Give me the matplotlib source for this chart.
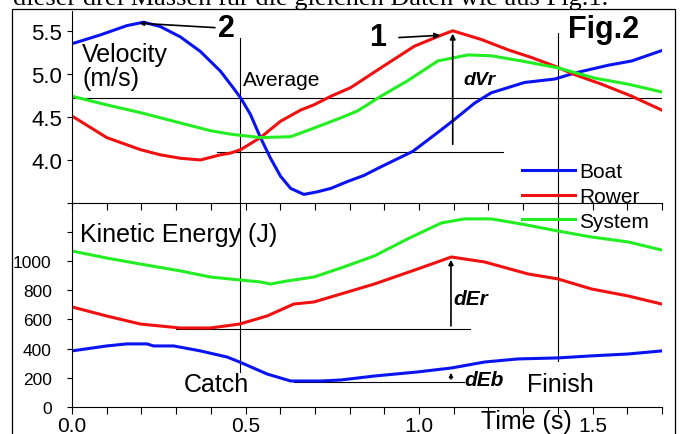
import matplotlib
matplotlib.use('Agg')
import matplotlib.pyplot as plt
import numpy as np
from matplotlib.patches import Rectangle

plt.rcParams['font.family'] = ['Liberation Sans', 'DejaVu Sans']

# velocity (m/s)
t_boat_v = [0.0, 0.08, 0.158, 0.206, 0.254, 0.312, 0.37, 0.428, 0.466, 0.486, 0.514, 0.543,
            0.572, 0.601, 0.63, 0.668, 0.707, 0.746, 0.794, 0.841, 0.89, 0.982, 1.064,
            1.102, 1.16, 1.208, 1.256, 1.304, 1.391, 1.449, 1.545, 1.613, 1.699]
boat_v = [5.35, 5.45, 5.56, 5.60, 5.55, 5.43, 5.26, 5.03, 4.83, 4.72, 4.53, 4.26,
          4.02, 3.81, 3.67, 3.60, 3.63, 3.67, 3.75, 3.82, 3.92, 4.10, 4.35,
          4.47, 4.66, 4.78, 4.84, 4.90, 4.94, 5.01, 5.10, 5.15, 5.27]

t_rower_v = [0.0, 0.1, 0.197, 0.254, 0.312, 0.37, 0.428, 0.457, 0.486, 0.543, 0.601, 0.659,
             0.697, 0.746, 0.803, 0.89, 0.986, 1.064, 1.097, 1.179, 1.256, 1.324, 1.391,
             1.449, 1.526, 1.613, 1.699]
rower_v = [4.51, 4.26, 4.12, 4.06, 4.02, 4.00, 4.06, 4.08, 4.12, 4.26, 4.45, 4.58,
           4.64, 4.74, 4.84, 5.07, 5.32, 5.45, 5.50, 5.40, 5.28, 5.19, 5.09,
           4.99, 4.88, 4.74, 4.58]

t_sys_v = [0.0, 0.1, 0.197, 0.312, 0.399, 0.457, 0.543, 0.63, 0.697, 0.775, 0.823, 0.89,
           0.967, 1.054, 1.141, 1.208, 1.295, 1.4, 1.507, 1.603, 1.699]
sys_v = [4.74, 4.64, 4.55, 4.43, 4.34, 4.30, 4.26, 4.27, 4.37, 4.49, 4.57, 4.74,
         4.92, 5.15, 5.22, 5.21, 5.15, 5.07, 4.95, 4.88, 4.79]

# kinetic energy (J)
t_boat_e = [0.0, 0.1, 0.158, 0.216, 0.235, 0.293, 0.37, 0.447, 0.483, 0.562, 0.63, 0.717,
            0.775, 0.871, 0.996, 1.093, 1.189, 1.285, 1.40, 1.497, 1.603, 1.699]
boat_e = [384, 418, 432, 432, 418, 418, 384, 342, 308, 226, 178, 178,
          185, 212, 240, 267, 308, 329, 336, 350, 363, 384]

t_rower_e = [0.0, 0.1, 0.197, 0.312, 0.399, 0.483, 0.562, 0.639, 0.697, 0.775, 0.871,
             0.996, 1.093, 1.189, 1.314, 1.40, 1.497, 1.603, 1.699]
rower_e = [685, 623, 568, 541, 541, 568, 623, 705, 719, 774, 842,
           945, 1027, 993, 911, 877, 808, 760, 705]

t_sys_e = [0.0, 0.1, 0.197, 0.312, 0.399, 0.483, 0.543, 0.572, 0.62, 0.697, 0.775, 0.871,
           0.967, 1.064, 1.131, 1.208, 1.295, 1.40, 1.497, 1.603, 1.699]
sys_e = [1068, 1020, 979, 932, 890, 870, 856, 842, 863, 890, 952, 1034,
         1151, 1260, 1288, 1288, 1253, 1205, 1164, 1130, 1075]

catch_t = 0.483
finish_t = 1.40
avg_v = 4.72
rower_catch_v = 4.09
rower_min_e = 536
boat_min_e = 171

blue = '#0a14f0'
red = '#f01010'
green = '#22ee22'

fig = plt.figure(figsize = (6.8, 4.35), dpi = 100)
ax1 = fig.add_axes([0.1059, 0.531, 0.8676, 0.4414])
ax2 = fig.add_axes([0.1059, 0.0621, 0.8676, 0.469])

for ax in (ax1, ax2):
    ax.set_xlim(0, 1.7)
    ax.patch.set_alpha(0)
    for s in ('top', 'right'):
        ax.spines[s].set_visible(False)
    for s in ('left', 'bottom'):
        ax.spines[s].set_linewidth(0.8)
    ax.set_xticks(np.arange(0, 1.71, 0.1))
    ax.tick_params(axis = 'x', direction = 'out', length = 5, width = 0.8)
    ax.tick_params(axis = 'y', direction = 'out', length = 3.6, width = 0.8)

# ---- velocity panel
ax1.set_ylim(3.5, 5.73)
ax1.set_yticks([3.5, 4.0, 4.5, 5.0, 5.5])
ax1.set_yticklabels(['', '4.0', '4.5', '5.0', '5.5'], fontsize = 16)
ax1.tick_params(axis = 'y', pad = 3.5)
ax1.tick_params(axis = 'x', labelbottom = False)

lb, = ax1.plot(t_boat_v, boat_v, color = blue, lw = 2.2, label = 'Boat')
lr, = ax1.plot(t_rower_v, rower_v, color = red, lw = 2.2, label = 'Rower')
ls, = ax1.plot(t_sys_v, sys_v, color = green, lw = 2.2, label = 'System')

ax1.axhline(avg_v, color = 'black', lw = 0.8, zorder = 1)
ax1.plot([0.419, 1.243], [rower_catch_v] * 2, color = 'black', lw = 0.8, zorder = 1)
ax1.plot([catch_t] * 2, [3.5, 5.42], color = 'black', lw = 0.8, zorder = 1)
ax1.plot([finish_t] * 2, [3.5, 5.48], color = 'black', lw = 0.8, zorder = 1)

i_r = int(np.argmax(rower_v))
i_b = int(np.argmax(boat_v))
ax1.annotate('', xy = (t_rower_v[i_r], rower_v[i_r]), xytext = (t_rower_v[i_r], rower_catch_v + 0.06),
             arrowprops = dict(arrowstyle = '-|>', color = 'black', lw = 1.2, mutation_scale = 8))
ax1.annotate('', xy = (1.069, 5.45), xytext = (0.934, 5.42),
             arrowprops = dict(arrowstyle = '-|>', color = 'black', lw = 1.2, mutation_scale = 8))
ax1.annotate('', xy = (t_boat_v[i_b] - 0.02, boat_v[i_b] - 0.01), xytext = (0.42, 5.535),
             arrowprops = dict(arrowstyle = '-|>', color = 'black', lw = 1.2, mutation_scale = 6))

ax1.text(0.029, 5.37, 'Velocity\n(m/s)', fontsize = 18, va = 'top', ha = 'left', linespacing = 1.0)
ax1.text(0.494, 4.94, 'Average', fontsize = 15, va = 'center', ha = 'left')
ax1.text(0.422, 5.53, '2', fontsize = 22, fontweight = 'bold', va = 'center', ha = 'left')
ax1.text(0.855, 5.43, '1', fontsize = 22, fontweight = 'bold', va = 'center', ha = 'left')
ax1.text(1.43, 5.52, 'Fig.2', fontsize = 22, fontweight = 'bold', va = 'center', ha = 'left')
ax1.text(1.127, 4.94, 'dVr', fontsize = 14, fontweight = 'bold', style = 'italic', va = 'center', ha = 'left')

# ---- energy panel
ax2.set_ylim(0, 1397)
ax2.set_yticks(np.arange(0, 1201, 200))
ax2.set_yticklabels(['0', '200', '400', '600', '800', '1000', ''], fontsize = 12.5)
ax2.tick_params(axis = 'y', pad = 11)
ax2.set_xticklabels(['%.1f' % v if abs(v * 2 - round(v * 2)) < 1e-6 else '' for v in np.arange(0, 1.71, 0.1)],
                    fontsize = 15)
ax2.tick_params(axis = 'x', pad = 1.5)

ax2.plot(t_boat_e, boat_e, color = blue, lw = 2.2)
ax2.plot(t_rower_e, rower_e, color = red, lw = 2.2)
ax2.plot(t_sys_e, sys_e, color = green, lw = 2.2)

ax2.plot([0.30, 1.147], [rower_min_e] * 2, color = 'black', lw = 0.8, zorder = 1)
ax2.plot([0.64, 1.13], [boat_min_e] * 2, color = 'black', lw = 0.8, zorder = 1)
ax2.plot([catch_t] * 2, [240, 1397], color = 'black', lw = 0.8, zorder = 1)
ax2.plot([finish_t] * 2, [315, 1397], color = 'black', lw = 0.8, zorder = 1)

i_re = int(np.argmax(rower_e))
ax2.annotate('', xy = (1.092, rower_e[i_re]), xytext = (1.092, rower_min_e),
             arrowprops = dict(arrowstyle = '-|>', color = 'black', lw = 1.2, mutation_scale = 7))
ax2.annotate('', xy = (1.092, 253), xytext = (1.092, boat_min_e),
             arrowprops = dict(arrowstyle = '-|>', color = 'black', lw = 1.0, mutation_scale = 6))

ax2.text(0.023, 1185, 'Kinetic Energy (J)', fontsize = 18, va = 'center', ha = 'left')
ax2.text(0.416, 158, 'Catch', fontsize = 18, va = 'center', ha = 'center')
ax2.text(1.31, 158, 'Finish', fontsize = 18, va = 'center', ha = 'left')
ax2.text(1.10, 740, 'dEr', fontsize = 15, fontweight = 'bold', style = 'italic', va = 'center', ha = 'left')
ax2.text(1.13, 185, 'dEb', fontsize = 15, fontweight = 'bold', style = 'italic', va = 'center', ha = 'left')
ax2.text(1.31, -0.069, 'Time (s)', fontsize = 18, va = 'center', ha = 'center',
         transform = ax2.get_xaxis_transform())

fig.legend(handles = [lb, lr, ls], loc = 'upper left', bbox_to_anchor = (522 / 680, 1 - 163 / 435),
           frameon = False, fontsize = 15, handlelength = 2.55, handletextpad = 0.2,
           labelspacing = 0.28, borderpad = 0, borderaxespad = 0)

# outer frame and the cut-off line of text above it
fig.add_artist(Rectangle((12 / 680, -0.05), 663 / 680, 1.05 - 10 / 435, transform = fig.transFigure,
                         fill = False, lw = 0.9, edgecolor = 'black'))
fig.text(13 / 680, 1 - 5 / 435, 'dieser drei Massen für die gleichen Daten wie aus Fig.1.',
         fontsize = 19, family = 'Liberation Serif', va = 'baseline', ha = 'left')

fig.savefig('out.png', dpi = 100)
